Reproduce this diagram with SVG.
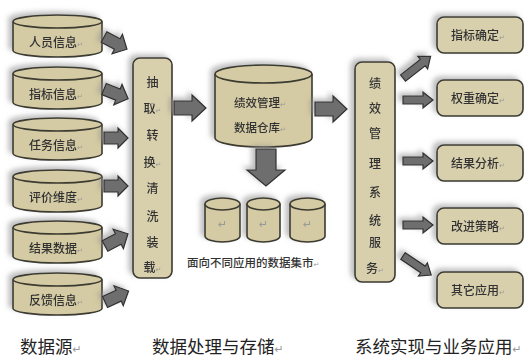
<svg xmlns="http://www.w3.org/2000/svg" width="528" height="360" viewBox="0 0 528 360">
<defs>
<filter id="sh" x="-30%" y="-30%" width="160%" height="160%">
<feDropShadow dx="-4" dy="-3" stdDeviation="2.5" flood-color="#8a8a8a" flood-opacity="0.55"/>
</filter>
<style>
.cyl{fill:#d4caa3;stroke:#3b3a30;stroke-width:1.6}
.box{fill:#d8cfac;stroke:#3b3a30;stroke-width:1.6}
.arr{fill:#6e6e6e;stroke:#303030;stroke-width:1.2;stroke-linejoin:miter}
.t{font-family:"Noto Sans CJK SC","Noto Sans",sans-serif;font-size:12px;fill:#333;font-weight:500}
.v{font-family:"Noto Sans CJK SC","Noto Sans",sans-serif;font-size:12px;fill:#333;text-anchor:middle;font-weight:500}
.cap{font-family:"Noto Sans CJK SC","Noto Sans",sans-serif;font-size:17.5px;fill:#222}
.m{font-family:"DejaVu Sans",sans-serif;font-size:7px;fill:#999;font-weight:normal}
.mb{font-family:"DejaVu Sans",sans-serif;font-size:11px;fill:#999}
</style>
</defs>
<rect width="528" height="360" fill="#fff"/>

<!-- left data source cylinders -->
<g id="src1" filter="url(#sh)"><path class="cyl" d="M13,21.5 V50.5 A44.5,6.5 0 0 0 102,50.5 V21.5"/><ellipse class="cyl" cx="57.5" cy="21.5" rx="44.5" ry="6.5"/><text class="t" x="29" y="47">人员信息<tspan class="m">↵</tspan></text></g>
<g id="src2" filter="url(#sh)"><path class="cyl" d="M13,73.5 V102.5 A44.5,6.5 0 0 0 102,102.5 V73.5"/><ellipse class="cyl" cx="57.5" cy="73.5" rx="44.5" ry="6.5"/><text class="t" x="29" y="99">指标信息<tspan class="m">↵</tspan></text></g>
<g id="src3" filter="url(#sh)"><path class="cyl" d="M13,124.5 V153.5 A44.5,6.5 0 0 0 102,153.5 V124.5"/><ellipse class="cyl" cx="57.5" cy="124.5" rx="44.5" ry="6.5"/><text class="t" x="29" y="150">任务信息<tspan class="m">↵</tspan></text></g>
<g id="src4" filter="url(#sh)"><path class="cyl" d="M13,176.5 V205.5 A44.5,6.5 0 0 0 102,205.5 V176.5"/><ellipse class="cyl" cx="57.5" cy="176.5" rx="44.5" ry="6.5"/><text class="t" x="29" y="202">评价维度<tspan class="m">↵</tspan></text></g>
<g id="src5" filter="url(#sh)"><path class="cyl" d="M13,227.5 V256.5 A44.5,6.5 0 0 0 102,256.5 V227.5"/><ellipse class="cyl" cx="57.5" cy="227.5" rx="44.5" ry="6.5"/><text class="t" x="29" y="253">结果数据<tspan class="m">↵</tspan></text></g>
<g id="src6" filter="url(#sh)"><path class="cyl" d="M13,279.5 V308.5 A44.5,6.5 0 0 0 102,308.5 V279.5"/><ellipse class="cyl" cx="57.5" cy="279.5" rx="44.5" ry="6.5"/><text class="t" x="29" y="305">反馈信息<tspan class="m">↵</tspan></text></g>

<!-- ETL box -->
<g id="etl" filter="url(#sh)">
<rect class="box" x="133" y="58" width="39" height="220" rx="7"/>
<text class="v" x="152.5" y="87">抽</text>
<text class="v" x="152.5" y="113">取<tspan class="m">↵</tspan></text>
<text class="v" x="152.5" y="140">转</text>
<text class="v" x="152.5" y="167">换<tspan class="m">↵</tspan></text>
<text class="v" x="152.5" y="193">清</text>
<text class="v" x="152.5" y="221">洗</text>
<text class="v" x="152.5" y="247">装</text>
<text class="v" x="152.5" y="272">载<tspan class="m">↵</tspan></text>
</g>

<!-- warehouse -->
<g id="warehouse" filter="url(#sh)">
<path class="cyl" d="M215,74 V138 A48.5,9 0 0 0 312,138 V74"/>
<ellipse class="cyl" cx="263.5" cy="74" rx="48.5" ry="9"/>
<text class="t" x="234" y="107" style="font-size:11.5px">绩效管理<tspan class="m">↵</tspan></text>
<text class="t" x="234" y="132" style="font-size:11.5px">数据仓库<tspan class="m">↵</tspan></text>
</g>

<!-- data marts -->
<g id="mart1" filter="url(#sh)"><path class="cyl" d="M205,204 V236 A17.5,6 0 0 0 240,236 V204"/><ellipse class="cyl" cx="222.5" cy="204" rx="17.5" ry="6"/><text class="mb" x="218" y="228">↵</text></g>
<g id="mart2" filter="url(#sh)"><path class="cyl" d="M247,204 V236 A16.5,6 0 0 0 280,236 V204"/><ellipse class="cyl" cx="263.5" cy="204" rx="16.5" ry="6"/><text class="mb" x="259" y="228">↵</text></g>
<g id="mart3" filter="url(#sh)"><path class="cyl" d="M290,204 V236 A17.5,6 0 0 0 325,236 V204"/><ellipse class="cyl" cx="307.5" cy="204" rx="17.5" ry="6"/><text class="mb" x="303" y="228">↵</text></g>
<g id="martcap"><text class="t" x="187" y="267" style="font-size:11.5px">面向不同应用的数据集市<tspan class="m">↵</tspan></text></g>

<!-- service box -->
<g id="service" filter="url(#sh)">
<rect class="box" x="355" y="62" width="40" height="220" rx="7"/>
<text class="v" x="375" y="88">绩</text>
<text class="v" x="375" y="113">效</text>
<text class="v" x="375" y="138">管</text>
<text class="v" x="375" y="168">理</text>
<text class="v" x="375" y="197">系</text>
<text class="v" x="375" y="225">统</text>
<text class="v" x="375" y="247">服</text>
<text class="v" x="375" y="273">务<tspan class="m">↵</tspan></text>
</g>

<!-- application boxes -->
<g id="app1" filter="url(#sh)"><rect class="box" x="437" y="17" width="86" height="36" rx="7"/><text class="v" x="478" y="40">指标确定<tspan class="m">↵</tspan></text></g>
<g id="app2" filter="url(#sh)"><rect class="box" x="437" y="80" width="86" height="36" rx="7"/><text class="v" x="478" y="103">权重确定<tspan class="m">↵</tspan></text></g>
<g id="app3" filter="url(#sh)"><rect class="box" x="437" y="145" width="86" height="36" rx="7"/><text class="v" x="478" y="168">结果分析<tspan class="m">↵</tspan></text></g>
<g id="app4" filter="url(#sh)"><rect class="box" x="437" y="208" width="86" height="36" rx="7"/><text class="v" x="478" y="231">改进策略<tspan class="m">↵</tspan></text></g>
<g id="app5" filter="url(#sh)"><rect class="box" x="437" y="272" width="86" height="36" rx="7"/><text class="v" x="478" y="295">其它应用<tspan class="m">↵</tspan></text></g>

<!-- connectors -->
<g id="connectors" filter="url(#sh)">
<path class="arr" transform="translate(104,37) rotate(28)" d="M0,-6 H15 V-11 L26,0 L15,11 V6 H0 Z"/>
<path class="arr" transform="translate(104,89) rotate(22)" d="M0,-6 H15 V-11 L26,0 L15,11 V6 H0 Z"/>
<path class="arr" transform="translate(104,138)" d="M0,-6 H14 V-10 L24,0 L14,10 V6 H0 Z"/>
<path class="arr" transform="translate(104,186)" d="M0,-6 H14 V-10 L24,0 L14,10 V6 H0 Z"/>
<path class="arr" transform="translate(105,246) rotate(-28)" d="M0,-6 H15 V-11 L26,0 L15,11 V6 H0 Z"/>
<path class="arr" transform="translate(105,302) rotate(-25)" d="M0,-6 H15 V-11 L26,0 L15,11 V6 H0 Z"/>
<path class="arr" d="M174,101 H192 V95 L206,108 L192,121 V115 H174 Z"/>
<path class="arr" d="M315,102 H333 V96 L347,109 L333,122 V116 H315 Z"/>
<path class="arr" d="M256,149 H276 V170 H285 L266,186 L247,170 H256 Z"/>
<path class="arr" transform="translate(403,78) rotate(-38)" d="M0,-4 H25 V-8 L35,0 L25,8 V4 H0 Z"/>
<path class="arr" transform="translate(403,100)" d="M0,-4 H20 V-8 L30,0 L20,8 V4 H0 Z"/>
<path class="arr" transform="translate(403,161)" d="M0,-4 H20 V-8 L30,0 L20,8 V4 H0 Z"/>
<path class="arr" transform="translate(403,225)" d="M0,-4 H20 V-8 L30,0 L20,8 V4 H0 Z"/>
<path class="arr" transform="translate(403,256) rotate(34)" d="M0,-4 H24 V-8 L34,0 L24,8 V4 H0 Z"/>
</g>

<!-- captions -->
<text class="cap" x="20" y="353">数据源<tspan class="mb">↵</tspan></text>
<text class="cap" x="152" y="353">数据处理与存储<tspan class="mb">↵</tspan></text>
<text class="cap" x="355" y="353">系统实现与业务应用<tspan class="mb">↵</tspan></text>
</svg>
